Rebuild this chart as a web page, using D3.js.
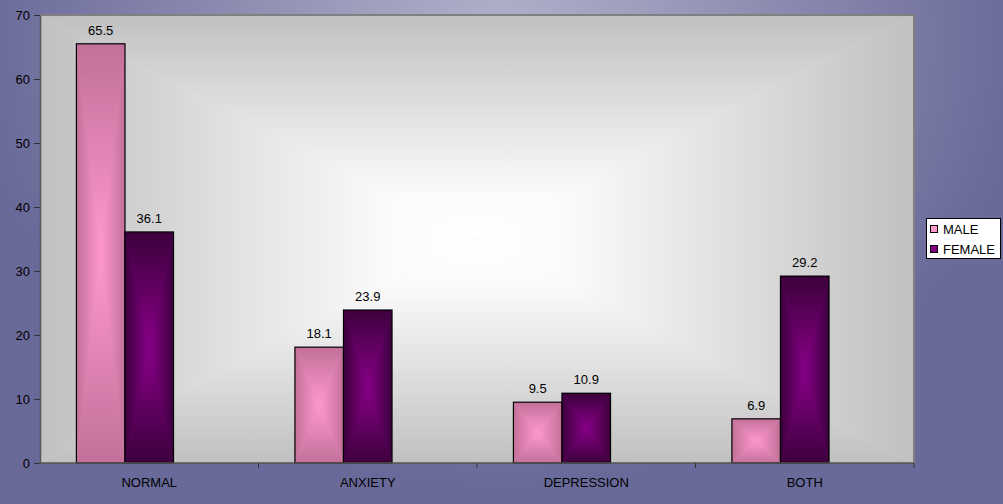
<!DOCTYPE html>
<html>
<head>
<meta charset="utf-8">
<script src="https://cdn.jsdelivr.net/npm/d3@7/dist/d3.min.js"></script>
<style>
  html, body { margin: 0; padding: 0; background: #6b6b9b; }
  svg { display: block; }
  text { font-family: "Liberation Sans", Arial, sans-serif; font-size: 13px; fill: #000; }
</style>
</head>
<body>
<svg id="chart" width="1003" height="504"></svg>
<script>
// Data
const categories = ["NORMAL", "ANXIETY", "DEPRESSION", "BOTH"];
const seriesNames = ["MALE", "FEMALE"];
const maleValues = [65.5, 18.1, 9.5, 6.9];
const femaleValues = [36.1, 23.9, 10.9, 29.2];
const yTicks = [0, 10, 20, 30, 40, 50, 60, 70];

const W = 1003, H = 504;
const plot = { left: 40, top: 15, right: 914, bottom: 463 };

const svg = d3.select("#chart");
const defs = svg.append("defs");

// Outer background: soft ellipse of light lilac fading to slate purple
const bgGrad = defs.append("radialGradient")
  .attr("id", "bgGrad")
  .attr("gradientUnits", "userSpaceOnUse")
  .attr("cx", 500).attr("cy", 40).attr("r", 520)
  .attr("gradientTransform", "translate(500,40) scale(1,0.85) translate(-500,-40)");
bgGrad.append("stop").attr("offset", 0).attr("stop-color", "#b2b2cb");
bgGrad.append("stop").attr("offset", 1).attr("stop-color", "#6a6a9a");
svg.append("rect").attr("width", W).attr("height", H).attr("fill", "url(#bgGrad)");

// Four linear gradients (one per side) that together build a rectangular
// "from centre" gradient over any rectangle. Stops run edge (0) -> centre (1).
function makeRectGradient(id, stops) {
  const sides = {
    top:    { x1: 0, y1: 0, x2: 0, y2: 1 },
    bottom: { x1: 0, y1: 1, x2: 0, y2: 0 },
    left:   { x1: 0, y1: 0, x2: 1, y2: 0 },
    right:  { x1: 1, y1: 0, x2: 0, y2: 0 }
  };
  Object.entries(sides).forEach(([side, v]) => {
    const g = defs.append("linearGradient")
      .attr("id", `${id}-${side}`)
      .attr("x1", v.x1).attr("y1", v.y1).attr("x2", v.x2).attr("y2", v.y2);
    stops.forEach(([o, c]) => g.append("stop").attr("offset", o).attr("stop-color", c));
  });
  const edge = stops[0][1], centre = stops[stops.length - 1][1];
  return { id, centre, edge };
}

function drawRectGradient(g, x, y, w, h, grad) {
  const cx = x + w / 2, cy = y + h / 2;
  g.append("rect").attr("x", x).attr("y", y).attr("width", w).attr("height", h)
    .attr("fill", d3.interpolateRgb(grad.edge, grad.centre)(0.5));
  const tris = [
    ["top",    [[x, y], [x + w, y], [cx, cy]]],
    ["bottom", [[x, y + h], [x + w, y + h], [cx, cy]]],
    ["left",   [[x, y], [x, y + h], [cx, cy]]],
    ["right",  [[x + w, y], [x + w, y + h], [cx, cy]]]
  ];
  tris.forEach(([side, pts]) => {
    g.append("polygon")
      .attr("points", pts.map(p => p.join(",")).join(" "))
      .attr("fill", `url(#${grad.id}-${side})`);
  });
}

const plotGrad = makeRectGradient("plotGrad", [[0, "#c0c0c0"], [0.45, "#e2e2e2"], [0.8, "#fbfbfb"], [1, "#ffffff"]]);
const maleGrad = makeRectGradient("maleGrad", [[0, "#c2709a"], [1, "#ff99cc"]]);
const femaleGrad = makeRectGradient("femaleGrad", [[0, "#3c003c"], [1, "#880088"]]);
const seriesGrad = { MALE: maleGrad, FEMALE: femaleGrad };
const seriesSwatch = { MALE: "#ff99cc", FEMALE: "#800080" };

// Scales
const x0 = d3.scaleBand().domain(categories).range([plot.left, plot.right]).padding(0);
const bw = x0.bandwidth();
// Three bar slots per category with a 150% gap; the two series fill the first two slots
const gapWidth = 1.5, slots = 3;
const step = bw / (slots + gapWidth);
const x1 = d3.scaleBand().domain(seriesNames)
  .range([step * gapWidth / 2, step * (gapWidth / 2 + seriesNames.length)]).padding(0);
const y = d3.scaleLinear().domain([0, 70]).range([plot.bottom, plot.top]);

// Plot area
const plotG = svg.append("g");
drawRectGradient(plotG, plot.left, plot.top, plot.right - plot.left, plot.bottom - plot.top, plotGrad);
svg.append("path")
  .attr("d", `M${plot.left},${plot.top}H${plot.right}V${plot.bottom}`)
  .attr("fill", "none").attr("stroke", "#808080").attr("stroke-width", 2);

// Bars
const rows = categories.map((c, i) => ({
  category: c,
  values: [
    { series: "MALE", value: maleValues[i] },
    { series: "FEMALE", value: femaleValues[i] }
  ]
}));

const barsG = svg.append("g");
rows.forEach(r => {
  r.values.forEach(v => {
    const bx = x0(r.category) + x1(v.series);
    const by = y(v.value);
    const bwid = x1.bandwidth();
    const bh = y(0) - by;
    const g = barsG.append("g");
    drawRectGradient(g, bx, by, bwid, bh, seriesGrad[v.series]);
    g.append("rect").attr("x", bx).attr("y", by).attr("width", bwid).attr("height", bh)
      .attr("fill", "none").attr("stroke", "#000").attr("stroke-width", 1.2);
    g.append("text")
      .attr("x", bx + bwid / 2).attr("y", by - 9)
      .attr("text-anchor", "middle")
      .text(v.value);
  });
});

// Y axis
const yAxis = d3.axisLeft(y).tickValues(yTicks).tickSize(6).tickPadding(4).tickSizeOuter(0);
const yG = svg.append("g").attr("transform", `translate(${plot.left},0)`).call(yAxis);
yG.select(".domain").attr("stroke", "#555").attr("stroke-width", 1.5);
yG.selectAll(".tick line").attr("stroke", "#333");
yG.selectAll(".tick text").attr("font-size", 13).attr("font-family", "Liberation Sans, Arial, sans-serif").attr("fill", "#000");

// X axis: ticks at category boundaries, labels centred in each band
const xG = svg.append("g");
xG.append("line")
  .attr("x1", plot.left - 1).attr("x2", plot.right)
  .attr("y1", plot.bottom).attr("y2", plot.bottom)
  .attr("stroke", "#555").attr("stroke-width", 1.5);
const boundaries = categories.slice(1).map(c => x0(c)).concat([plot.right]);
xG.selectAll("line.tick").data(boundaries).enter().append("line")
  .attr("class", "tick")
  .attr("x1", d => d).attr("x2", d => d)
  .attr("y1", plot.bottom).attr("y2", plot.bottom + 5)
  .attr("stroke", "#333");
xG.selectAll("text").data(categories).enter().append("text")
  .attr("x", d => x0(d) + bw / 2).attr("y", 487)
  .attr("text-anchor", "middle")
  .text(d => d);

// Legend
const legend = svg.append("g");
legend.append("rect")
  .attr("x", 926.5).attr("y", 218.5).attr("width", 74).attr("height", 40)
  .attr("fill", "#fff").attr("stroke", "#000").attr("stroke-width", 1);
seriesNames.forEach((s, i) => {
  const ly = 225.5 + i * 20;
  legend.append("rect")
    .attr("x", 930.5).attr("y", ly).attr("width", 7).attr("height", 7)
    .attr("fill", seriesSwatch[s]).attr("stroke", "#000").attr("stroke-width", 1);
  legend.append("text").attr("x", 943).attr("y", ly + 8).text(s);
});
</script>
</body>
</html>
